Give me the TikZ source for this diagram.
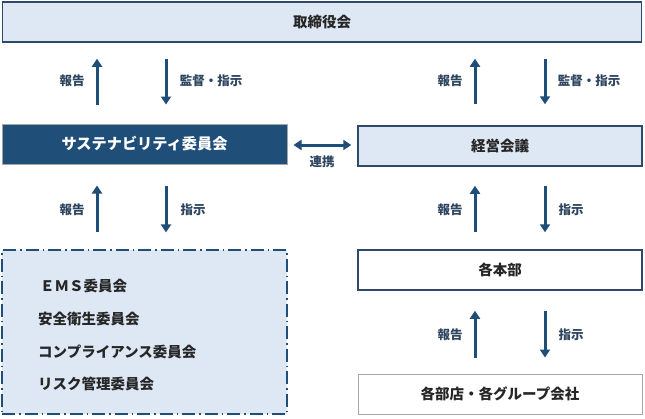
\documentclass[tikz,border=0pt]{standalone}
\usepackage{fontspec}
\setmainfont{Noto Sans CJK JP}
\usetikzlibrary{arrows.meta}
\definecolor{dblue}{HTML}{1F4E79}
\definecolor{lblue}{HTML}{DEE8F4}
\definecolor{bline}{HTML}{2F4A68}
\definecolor{lbl}{HTML}{2E4560}
\definecolor{gline}{HTML}{A6A6A6}
\begin{document}
\begin{tikzpicture}[x=1pt,y=-1pt,
  box/.style={rectangle,inner sep=0pt,minimum width=284pt,minimum height=40pt,font=\bfseries\fontsize{14.5}{16}\selectfont,text=black!85},
  arr/.style={draw=dblue,line width=3pt,-{Triangle[width=10pt,length=8pt]}},
  lab/.style={font=\bfseries\fontsize{12.5}{14}\selectfont,text=lbl}]
\useasboundingbox (0,0) rectangle (645,418);
\fill[white] (0,0) rectangle (645,418);
% boxes
\node[box,fill=lblue,draw=bline,line width=1.5pt,minimum width=639pt] (top) at (322,22) {取締役会};
\node[box,fill=dblue,draw=gline,line width=1pt,text=white,minimum width=285pt,font=\bfseries\fontsize{15.2}{17}\selectfont] (sus) at (144.5,144) {サステナビリティ委員会};
\node[box,fill=lblue,draw=bline,line width=1.5pt] (keiei) at (500,146) {経営会議};
\node[box,fill=lblue,draw=dblue,line width=1.2pt,dash pattern=on 13pt off 4pt on 1.5pt off 4pt,minimum width=285pt,minimum height=164pt] (cmt) at (144.5,332) {};
\node[box,fill=white,draw=bline,line width=1.5pt] (honbu) at (500,270) {各本部};
\node[box,fill=white,draw=gline,line width=1pt] (shiten) at (500,394) {各部店・各グループ会社};
% committee list
\begin{scope}[every node/.style={anchor=west,inner sep=0pt,font=\bfseries\fontsize{14.5}{16}\selectfont,text=black!85}]
\node (c1) at (40,286) {ＥＭＳ委員会};
\node (c2) at (38,319) {安全衛生委員会};
\node (c3) at (38,352) {コンプライアンス委員会};
\node (c4) at (38,384) {リスク管理委員会};
\end{scope}
% x positions
\coordinate (xl1) at (97,0);
\coordinate (xl2) at (166,0);
\coordinate (xr1) at (475,0);
\coordinate (xr2) at (545,0);
% top <-> row2
\draw[arr,shorten <=19pt,shorten >=16pt] (sus.north -| xl1) -- (top.south -| xl1);
\draw[arr,shorten <=16pt,shorten >=19pt] (top.south -| xl2) -- (sus.north -| xl2);
\draw[arr,shorten <=21pt,shorten >=16pt] (keiei.north -| xr1) -- (top.south -| xr1);
\draw[arr,shorten <=16pt,shorten >=21pt] (top.south -| xr2) -- (keiei.north -| xr2);
\node[lab] (l1) at (72,81) {報告};
\node[lab] (l2) at (211,81) {監督・指示};
\node[lab] (l3) at (450,81) {報告};
\node[lab] (l4) at (589,81) {監督・指示};
% row2 <-> row3
\draw[arr,shorten <=17pt,shorten >=21pt] (cmt.north -| xl1) -- (sus.south -| xl1);
\draw[arr,shorten <=21pt,shorten >=17pt] (sus.south -| xl2) -- (cmt.north -| xl2);
\draw[arr,shorten <=17pt,shorten >=19pt] (honbu.north -| xr1) -- (keiei.south -| xr1);
\draw[arr,shorten <=19pt,shorten >=17pt] (keiei.south -| xr2) -- (honbu.north -| xr2);
\node[lab] (l5) at (72,210) {報告};
\node[lab] (l6) at (193,210) {指示};
\node[lab] (l7) at (450,210) {報告};
\node[lab] (l8) at (571,210) {指示};
% row3 <-> row4
\draw[arr,shorten <=16pt,shorten >=20pt] (shiten.north -| xr1) -- (honbu.south -| xr1);
\draw[arr,shorten <=20pt,shorten >=16pt] (honbu.south -| xr2) -- (shiten.north -| xr2);
\node[lab] (l9) at (450,335) {報告};
\node[lab] (l10) at (571,335) {指示};
% link
\coordinate (ym) at (0,145);
\draw[draw=dblue,line width=3pt,{Triangle[width=10pt,length=8pt]}-{Triangle[width=10pt,length=8pt]},shorten <=6pt,shorten >=6pt] (sus.east |- ym) -- (keiei.west |- ym);
\node[lab] (lk) at (322,162) {連携};
\end{tikzpicture}
\end{document}
